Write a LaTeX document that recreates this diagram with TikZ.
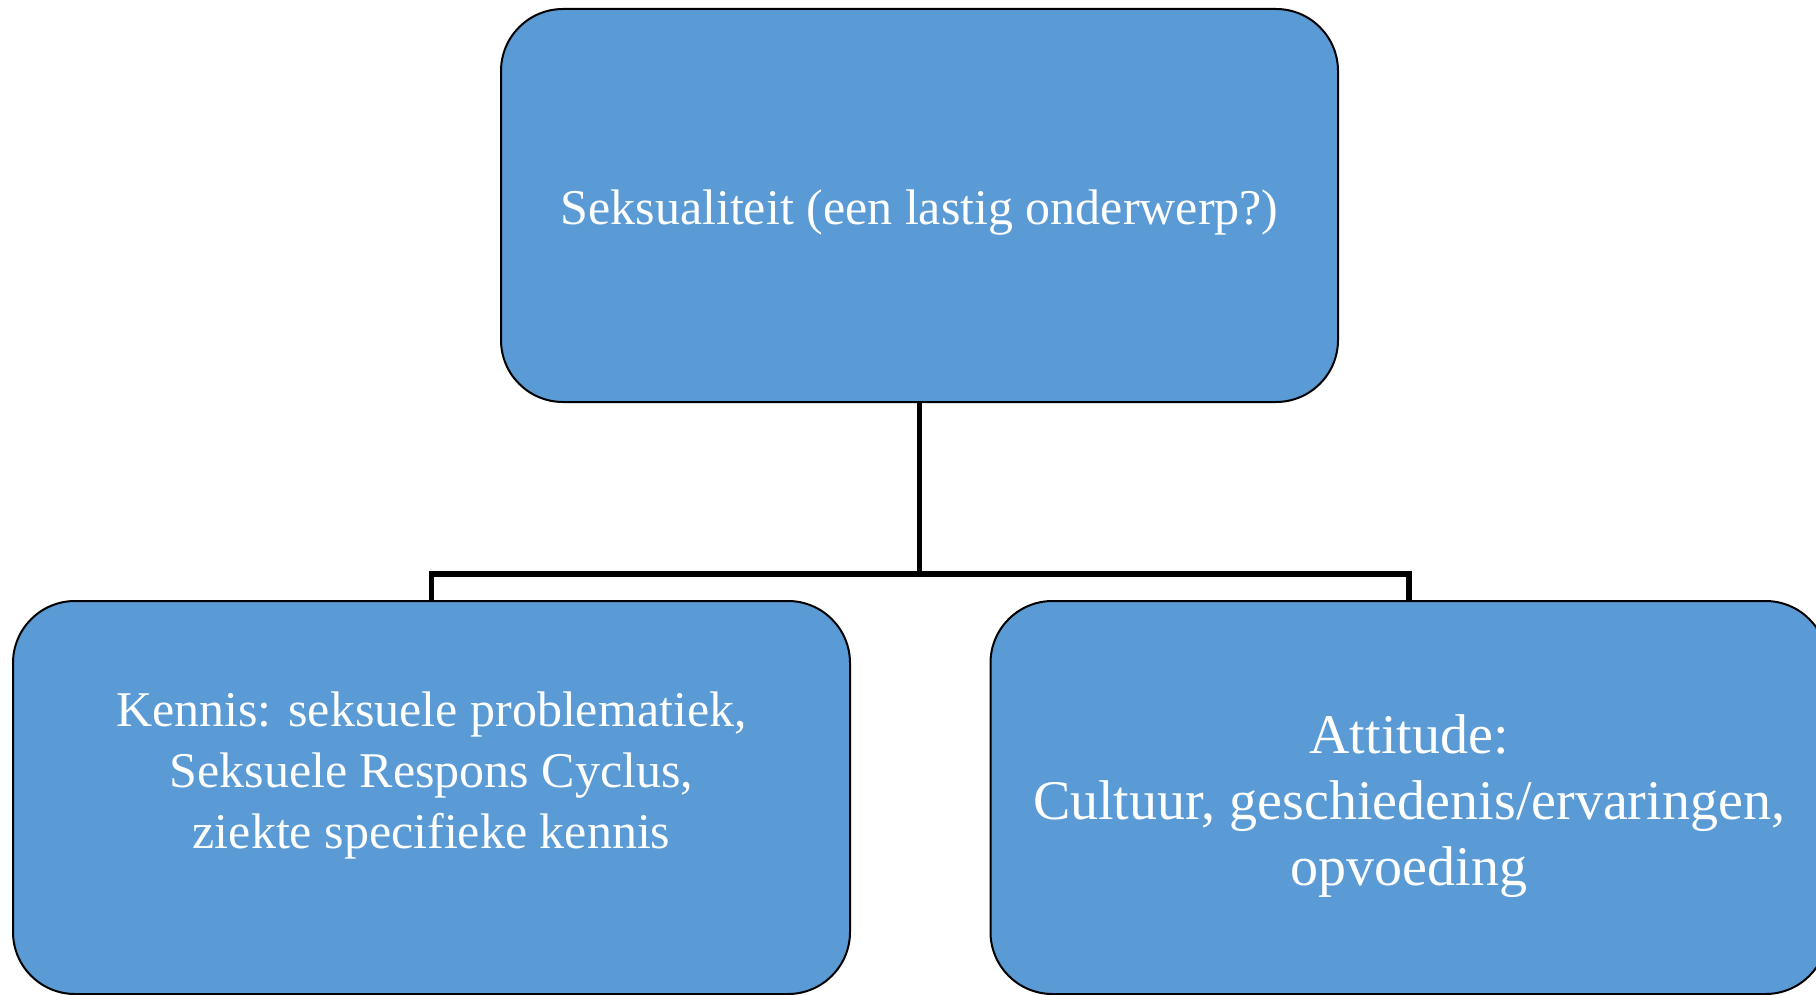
\documentclass[tikz,border=0pt]{standalone}
\usepackage{fontspec}
\setmainfont{Liberation Serif}
\definecolor{boxblue}{HTML}{5B9BD5}
\begin{document}
\begin{tikzpicture}[x=1pt,y=-1pt]
\tikzstyle{box}=[draw=black,line width=2pt,fill=boxblue,rectangle,rounded corners=62pt,minimum width=837pt,minimum height=393pt,inner sep=0pt]
\tikzstyle{boxtext}=[text=white,align=center,inner sep=0pt]
\tikzstyle{conn}=[draw=black,line width=5.5pt]
\useasboundingbox (0,0) rectangle (1816,995);
\node [box] (topic) at (919.5,205.5) {};
\node [box] (kennis) at (431.5,797.5) {};
\node [box] (attitude) at (1409,797.5) {};
\coordinate (split) at (919.5,574);
\draw [conn] (topic.south) -- (split);
\draw [conn] (kennis.north) |- (split) -| (attitude.north);
\node [boxtext,font=\fontsize{50}{61}\selectfont] (topictext) at (919.5,213) {Seksualiteit (een lastig onderwerp?)};
\node [boxtext,font=\fontsize{50}{61}\selectfont] (kennistext) at (431.5,775) {Kennis: seksuele problematiek,\\Seksuele Respons Cyclus,\\ziekte specifieke kennis};
\node [boxtext,font=\fontsize{56}{66}\selectfont] (attitudetext) at (1409,806) {Attitude:\\Cultuur, geschiedenis/ervaringen,\\opvoeding};
\end{tikzpicture}
\end{document}
